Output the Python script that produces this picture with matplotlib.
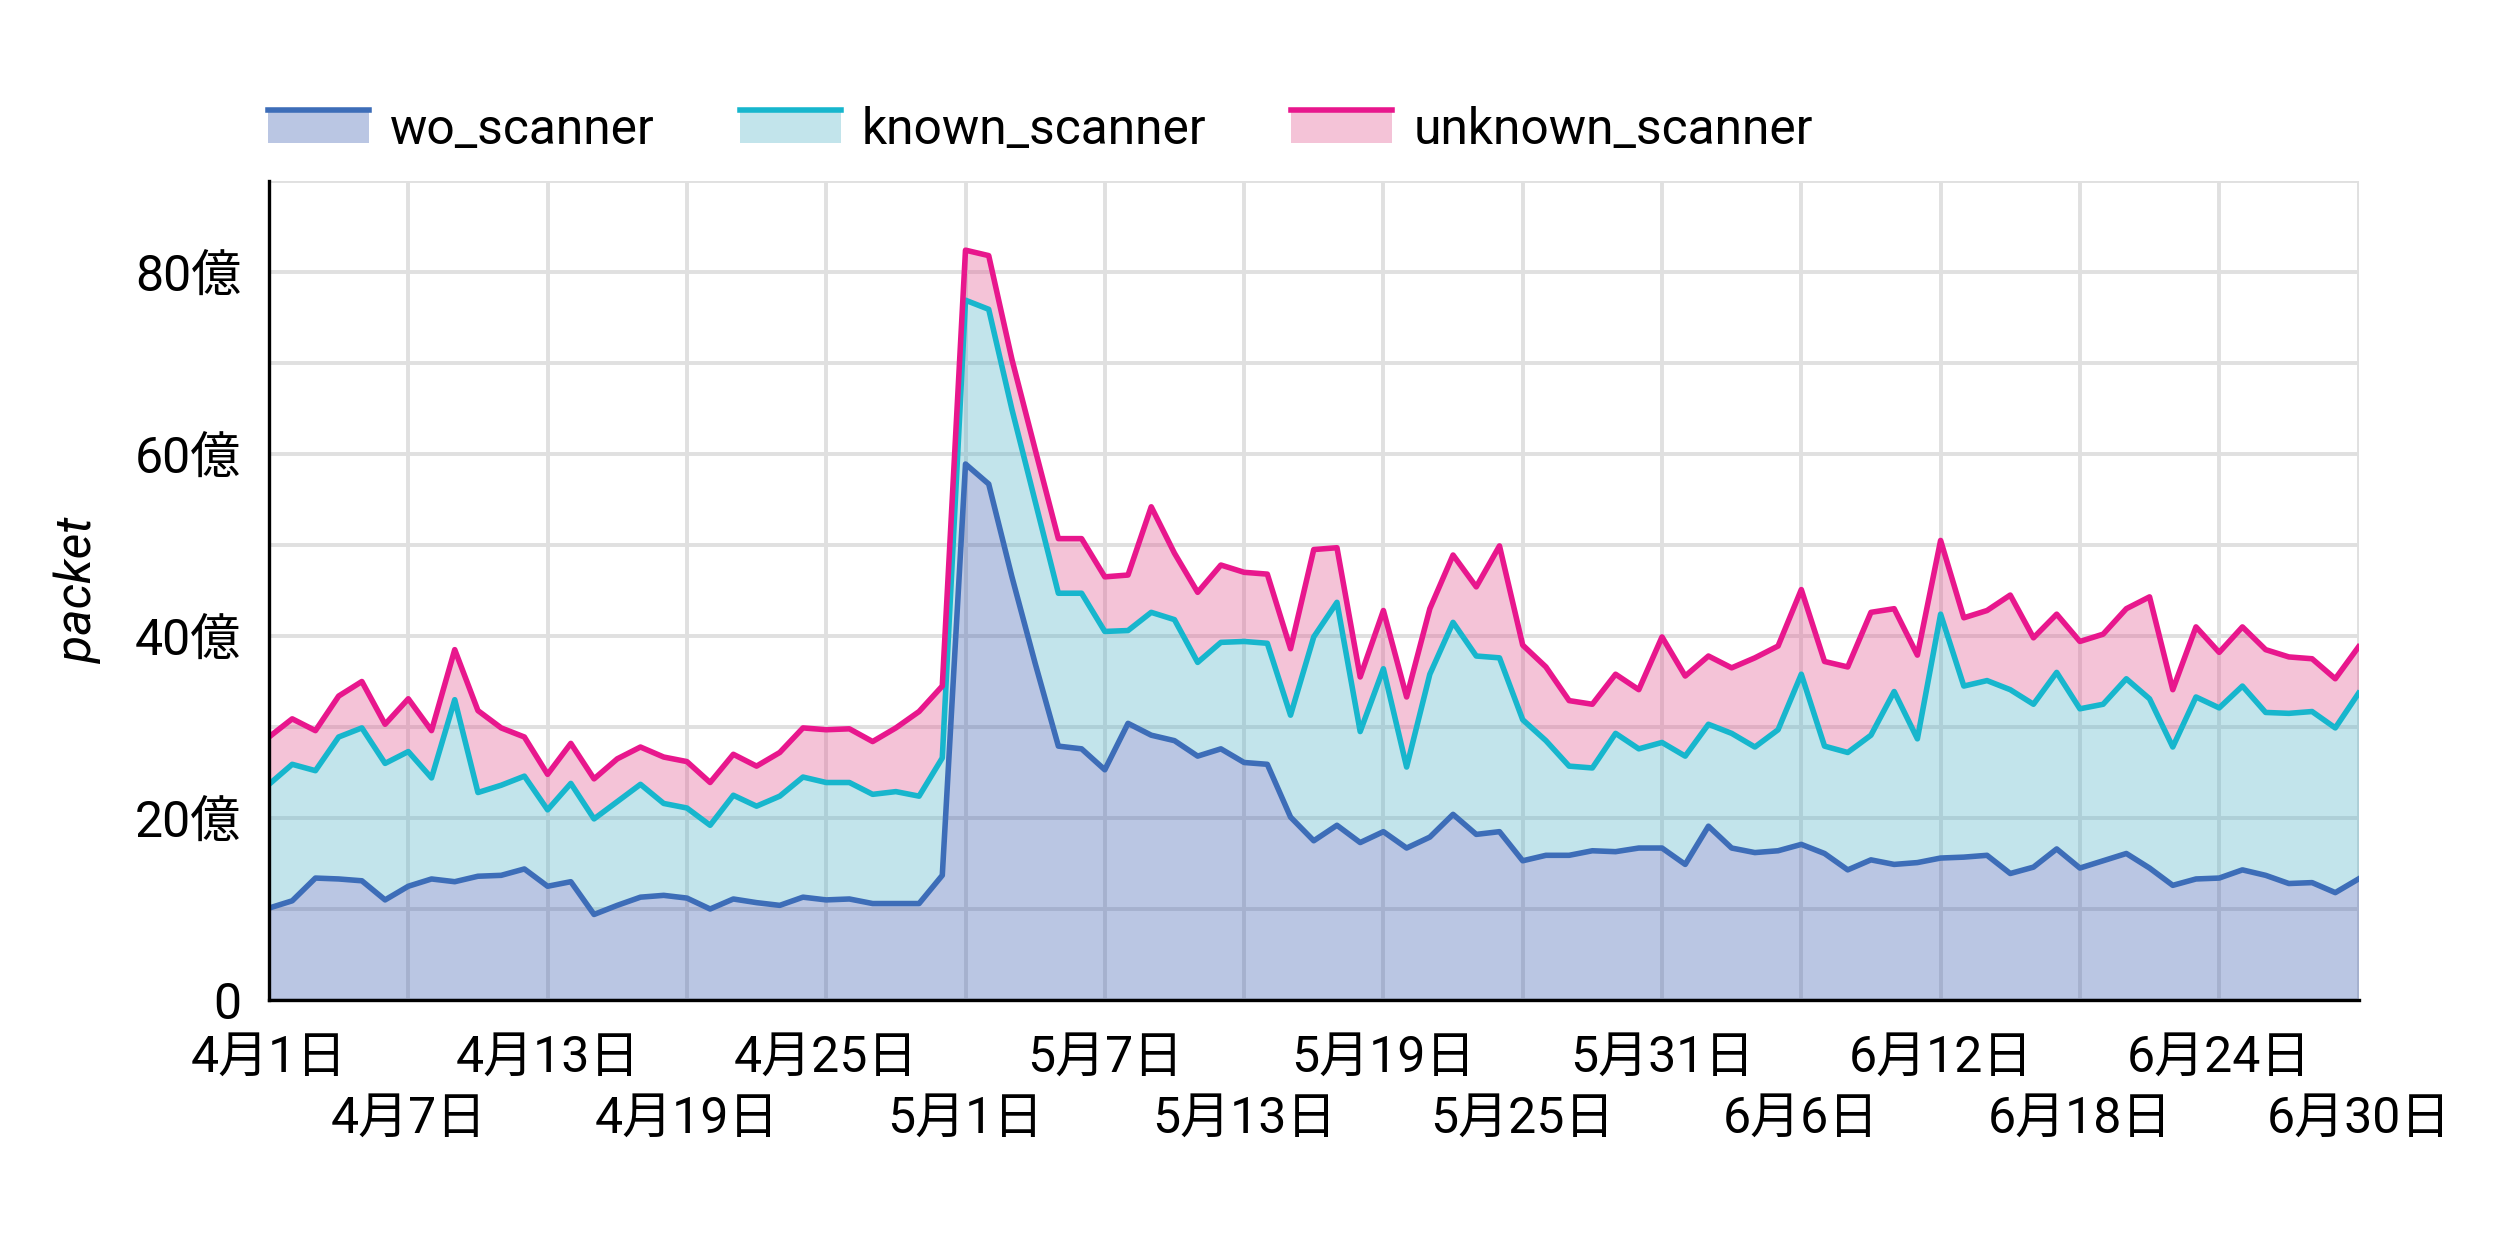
import matplotlib
matplotlib.use("Agg")
import matplotlib.pyplot as plt
from matplotlib.legend_handler import HandlerBase
from matplotlib.patches import Rectangle
from matplotlib.lines import Line2D
import numpy as np
import pandas as pd

plt.rcParams["font.family"] = ["Roboto", "Noto Sans CJK JP", "DejaVu Sans"]

# daily packets, unit: 億 (1e8)
dates = pd.date_range("2021-04-01", "2021-06-30", freq="D")

wo_scanner = [
    10.1, 10.9, 13.4, 13.3, 13.1, 11.0, 12.5, 13.3, 13.0, 13.6,
    13.7, 14.4, 12.5, 13.0, 9.4, 10.4, 11.3, 11.5, 11.2, 10.0,
    11.1, 10.7, 10.4, 11.3, 11.0, 11.1, 10.6, 10.6, 10.6, 13.7,
    58.9, 56.7, 46.5, 37.0, 27.9, 27.6, 25.3, 30.4, 29.1, 28.5,
    26.8, 27.6, 26.1, 25.9, 20.1, 17.5, 19.2, 17.3, 18.5, 16.7,
    17.9, 20.4, 18.2, 18.5, 15.3, 15.9, 15.9, 16.4, 16.3, 16.7,
    16.7, 14.9, 19.1, 16.7, 16.2, 16.4, 17.1, 16.1, 14.3, 15.4,
    14.9, 15.1, 15.6, 15.7, 15.9, 13.9, 14.6, 16.6, 14.5, 15.3,
    16.1, 14.5, 12.6, 13.3, 13.4, 14.3, 13.7, 12.8, 12.9, 11.8,
    13.3,
]
known_scanner = [
    13.6, 15.0, 11.8, 15.6, 16.8, 15.0, 14.8, 11.1, 20.0, 9.2,
    9.9, 10.2, 8.4, 10.8, 10.5, 11.4, 12.4, 10.1, 9.9, 9.2,
    11.4, 10.6, 12.0, 13.2, 12.9, 12.8, 12.0, 12.3, 11.8, 12.9,
    18.0, 19.2, 18.4, 17.8, 16.8, 17.1, 15.2, 10.2, 13.5, 13.3,
    10.3, 11.7, 13.3, 13.3, 11.2, 22.4, 24.5, 12.2, 17.9, 8.9,
    17.9, 21.1, 19.6, 19.1, 15.5, 12.6, 9.8, 9.1, 13.0, 10.9,
    11.6, 11.9, 11.2, 12.6, 11.6, 13.3, 18.7, 11.8, 12.9, 13.7,
    19.0, 13.6, 26.8, 18.8, 19.2, 20.2, 17.9, 19.4, 17.5, 17.2,
    19.2, 18.6, 15.2, 20.0, 18.7, 20.2, 17.9, 18.7, 18.8, 18.1,
    20.4,
]
unknown_scanner = [
    5.2, 5.0, 4.4, 4.5, 5.1, 4.3, 5.8, 5.2, 5.5, 9.0,
    6.3, 4.3, 3.9, 4.4, 4.4, 4.7, 4.1, 5.1, 5.1, 4.7,
    4.5, 4.4, 4.8, 5.4, 5.8, 5.9, 5.8, 7.0, 9.3, 7.9,
    5.5, 5.9, 5.5, 5.7, 6.0, 6.0, 6.0, 6.1, 11.6, 7.3,
    7.7, 8.5, 7.6, 7.6, 7.3, 9.6, 6.0, 6.0, 6.4, 7.7,
    7.2, 7.4, 7.6, 12.3, 8.2, 8.1, 7.2, 7.0, 6.5, 6.5,
    11.6, 8.8, 7.5, 7.2, 9.8, 9.2, 9.3, 9.3, 9.4, 13.5,
    9.1, 9.2, 8.1, 7.5, 7.7, 10.4, 7.3, 6.4, 7.4, 7.7,
    7.7, 11.2, 6.3, 7.7, 6.1, 6.5, 6.9, 6.2, 5.8, 5.4,
    5.1,
]

series_names = ["wo_scanner", "known_scanner", "unknown_scanner"]
line_colors = ["#3d6db8", "#17b6cd", "#e8178d"]
fill_colors = ["#3a5caf", "#51b2c8", "#e2548f"]
fill_alpha = 0.35


class AreaHandler(HandlerBase):
    """legend handle: filled box with the series line on its top edge"""
    def create_artists(self, legend, orig_handle, xdescent, ydescent,
                       width, height, fontsize, trans):
        fc, lc = orig_handle
        rect = Rectangle((-xdescent, -ydescent), width, height,
                         facecolor=fc, alpha=fill_alpha, edgecolor="none",
                         transform=trans)
        top = -ydescent + height
        line = Line2D([-xdescent, -xdescent + width], [top, top],
                      color=lc, lw=2.0, transform=trans)
        return [rect, line]


fig = plt.figure(figsize=(12.5, 6.25), dpi=200)
ax = fig.add_axes([0.1076, 0.2, 0.8358, 0.6552])

stack = np.cumsum(np.array([wo_scanner, known_scanner, unknown_scanner]), axis=0)
lower = np.zeros(len(dates))
for i, name in enumerate(series_names):
    ax.fill_between(dates, lower, stack[i], color=fill_colors[i],
                    alpha=fill_alpha, linewidth=0, zorder=2)
    ax.plot(dates, stack[i], color=line_colors[i], lw=2.0, zorder=3)
    lower = stack[i]

ax.set_xlim(dates[0], dates[-1])
ax.set_ylim(0, 90)

# y axis
ax.set_yticks([0, 20, 40, 60, 80])
ax.set_yticks([10, 30, 50, 70, 90], minor=True)
ax.set_yticklabels(["0" if v == 0 else f"{v}億" for v in [0, 20, 40, 60, 80]])
ax.set_ylabel("packet", fontsize=18, style="italic", labelpad=12)

# x axis: every 6 days, alternate rows
tick_days = dates[::6]
ax.set_xticks(tick_days[::2])
ax.set_xticks(tick_days[1::2], minor=True)
ax.set_xticklabels([f"{d.month}月{d.day}日" for d in tick_days[::2]])
ax.set_xticklabels([f"{d.month}月{d.day}日" for d in tick_days[1::2]], minor=True)

ax.tick_params(axis="both", which="both", length=0, labelsize=18)
ax.tick_params(axis="x", which="major", pad=12)
ax.tick_params(axis="x", which="minor", pad=34)
ax.tick_params(axis="y", which="major", pad=10)

ax.grid(True, which="both", color="#e0e0e0", lw=1.4)
ax.set_axisbelow(True)
for side in ["top", "right"]:
    ax.spines[side].set_visible(False)
for side in ["left", "bottom"]:
    ax.spines[side].set_linewidth(1.2)
    ax.spines[side].set_color("black")
    ax.spines[side].set_zorder(4)

handles = [(fill_colors[i], line_colors[i]) for i in range(3)]
fig.legend(handles, series_names, handler_map={tuple: AreaHandler()},
           loc="center left", bbox_to_anchor=(0.1072, 0.896), ncol=3,
           frameon=False, fontsize=17.9, handlelength=2.04, handleheight=0.65,
           handletextpad=0.42, columnspacing=1.7, borderpad=0, borderaxespad=0)

fig.savefig("out.png", dpi=200, facecolor="white")
